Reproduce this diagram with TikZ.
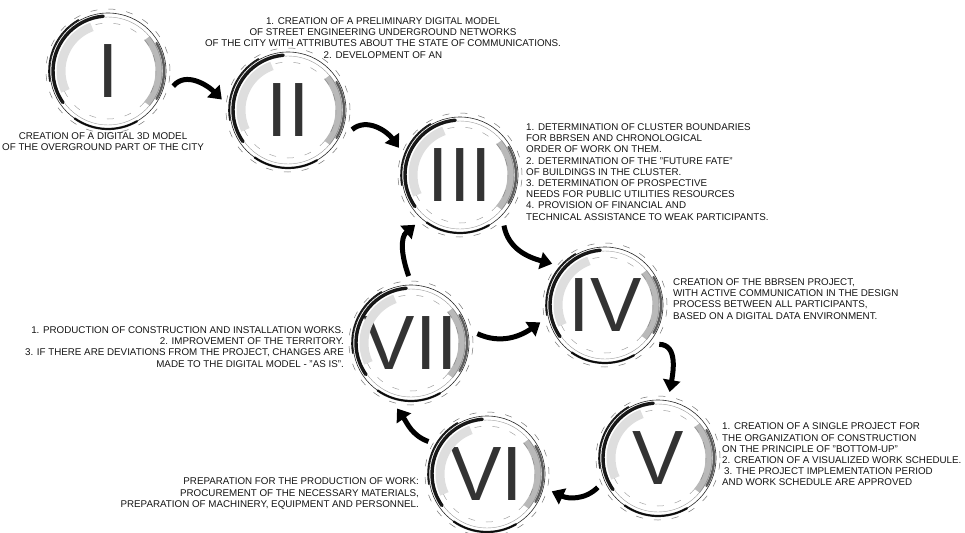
\documentclass[tikz,border=0pt]{standalone}
\usepackage{fontspec}
\setmainfont{Liberation Sans}
\usetikzlibrary{arrows.meta}
\definecolor{NumGray}{HTML}{333333}
\definecolor{InkText}{HTML}{141414}
\tikzset{
  stage/.style={circle, minimum size=116pt, inner sep=0pt, outer sep=9pt,
                font=\fontsize{77}{77}\selectfont, text=NumGray},
  inkthin/.style={line width=0.6pt, draw=black!85},
  inkheavy/.style={line width=3.4pt, draw=black, opacity=0.9, line cap=round},
  inksmudge/.style={line width=7pt, draw=black!55, opacity=0.5},
  inkscratch/.style={line width=0.5pt, draw=black!55, dash pattern=on 7pt off 11pt},
  flow/.style={-{Triangle[length=12pt,width=17pt]}, line width=5pt, black},
  note/.style={font=\fontsize{9.8}{11.2}\selectfont, text=InkText, inner sep=0pt},
}

\begin{document}
\begin{tikzpicture}[x=1pt, y=1pt]
  \useasboundingbox (0,0) rectangle (965,-532);

  % stages of the cycle
  \node[stage] (s1) at (108,-71)  {I};
  \node[stage] (s2) at (288,-110) {II};
  \node[stage] (s3) at (460,-175) {III};
  \node[stage] (s4) at (605,-305) {IV};
  \node[stage] (s5) at (658,-458) {V};
  \node[stage] (s6) at (487,-474) {VI};
  \node[stage] (s7) at (411,-343) {VII};

  % brushed rings
  \foreach \s in {s1,s2,s3,s4,s5,s6,s7} {
    \draw[inkthin] (\s.center) circle[radius=58];
    \draw[inkthin, black!40, line width=0.4pt] (\s.center) circle[radius=54];
    \draw[inkscratch] (\s.center) circle[radius=62];
    \draw[inkscratch, dash phase=9pt, black!35] (\s.center) circle[radius=48];
    \draw[inksmudge, black!13, opacity=1, line width=9pt] (\s.center) ++(110:47) arc[start angle=110, end angle=205, radius=47];
    \draw[inkheavy] (\s.center) ++(95:55) arc[start angle=95, end angle=215, radius=55];
    \draw[inkheavy, line width=1.6pt] (\s.center) ++(120:59) arc[start angle=120, end angle=190, radius=59];
    \draw[inksmudge] (\s.center) ++(-40:51) arc[start angle=-40, end angle=40, radius=51];
    \draw[inkheavy, line width=2.4pt, black!70] (\s.center) ++(-30:56) arc[start angle=-30, end angle=30, radius=56];
    \draw[inkheavy, line width=2.2pt] (\s.center) ++(235:58) arc[start angle=235, end angle=300, radius=58];
  }

  % arrows
  \draw[flow] (s1.-13)  to[out=50, in=135]   (s2.171);
  \draw[flow] (s2.-17)  to[out=40, in=125]   (s3.156);
  \draw[flow] (s3.-49)  to[out=-80, in=165]  (s4.142);
  \draw[flow] (s4.-36)  to[out=0, in=80]     (s5.80);
  \draw[flow] (s5.206)  to[out=-135, in=-25] (s6.-15);
  \draw[flow] (s6.151)  to[out=160, in=-55]  (s7.-102);
  \draw[flow] (s7.92)   to[out=110, in=-140] (s3.228);
  \draw[flow] (s7.8)    to[out=-25, in=-145] (s4.195);

  % descriptions
  \node[note, align=center] (d1) at (103,-141.5)
        {CREATION OF A DIGITAL 3D MODEL\\OF THE OVERGROUND PART OF THE CITY};
  \node[note, align=center] (d2) at (383,-38)
        {1. CREATION OF A PRELIMINARY DIGITAL MODEL\\
         OF STREET ENGINEERING UNDERGROUND NETWORKS\\
         OF THE CITY WITH ATTRIBUTES ABOUT THE STATE OF COMMUNICATIONS.\\
         2. DEVELOPMENT OF AN};
  \node[note, align=left, anchor=west] (d3) at (526,-172)
        {1. DETERMINATION OF CLUSTER BOUNDARIES\\
         FOR BBRSEN AND CHRONOLOGICAL\\
         ORDER OF WORK ON THEM.\\
         2. DETERMINATION OF THE "FUTURE FATE"\\
         OF BUILDINGS IN THE CLUSTER.\\
         3. DETERMINATION OF PROSPECTIVE\\
         NEEDS FOR PUBLIC UTILITIES RESOURCES\\
         4. PROVISION OF FINANCIAL AND\\
         TECHNICAL ASSISTANCE TO WEAK PARTICIPANTS.};
  \node[note, align=left, anchor=west] (d4) at (673,-299)
        {CREATION OF THE BBRSEN PROJECT,\\
         WITH ACTIVE COMMUNICATION IN THE DESIGN\\
         PROCESS BETWEEN ALL PARTICIPANTS,\\
         BASED ON A DIGITAL DATA ENVIRONMENT.};
  \node[note, align=left, anchor=west] (d5) at (722,-454.5)
        {1. CREATION OF A SINGLE PROJECT FOR\\
         THE ORGANIZATION OF CONSTRUCTION\\
         ON THE PRINCIPLE OF "BOTTOM-UP"\\
         2. CREATION OF A VISUALIZED WORK SCHEDULE.\\
         \hspace*{2pt}3. THE PROJECT IMPLEMENTATION PERIOD\\
         AND WORK SCHEDULE ARE APPROVED};
  \node[note, align=right, anchor=east] (d6) at (419,-493.5)
        {PREPARATION FOR THE PRODUCTION OF WORK:\\
         PROCUREMENT OF THE NECESSARY MATERIALS,\\
         PREPARATION OF MACHINERY, EQUIPMENT AND PERSONNEL.};
  \node[note, align=right, anchor=east] (d7) at (344,-347)
        {1. PRODUCTION OF CONSTRUCTION AND INSTALLATION WORKS.\\
         2. IMPROVEMENT OF THE TERRITORY.\\
         3. IF THERE ARE DEVIATIONS FROM THE PROJECT, CHANGES ARE\\
         MADE TO THE DIGITAL MODEL - "AS IS".};

\end{tikzpicture}
\end{document}
